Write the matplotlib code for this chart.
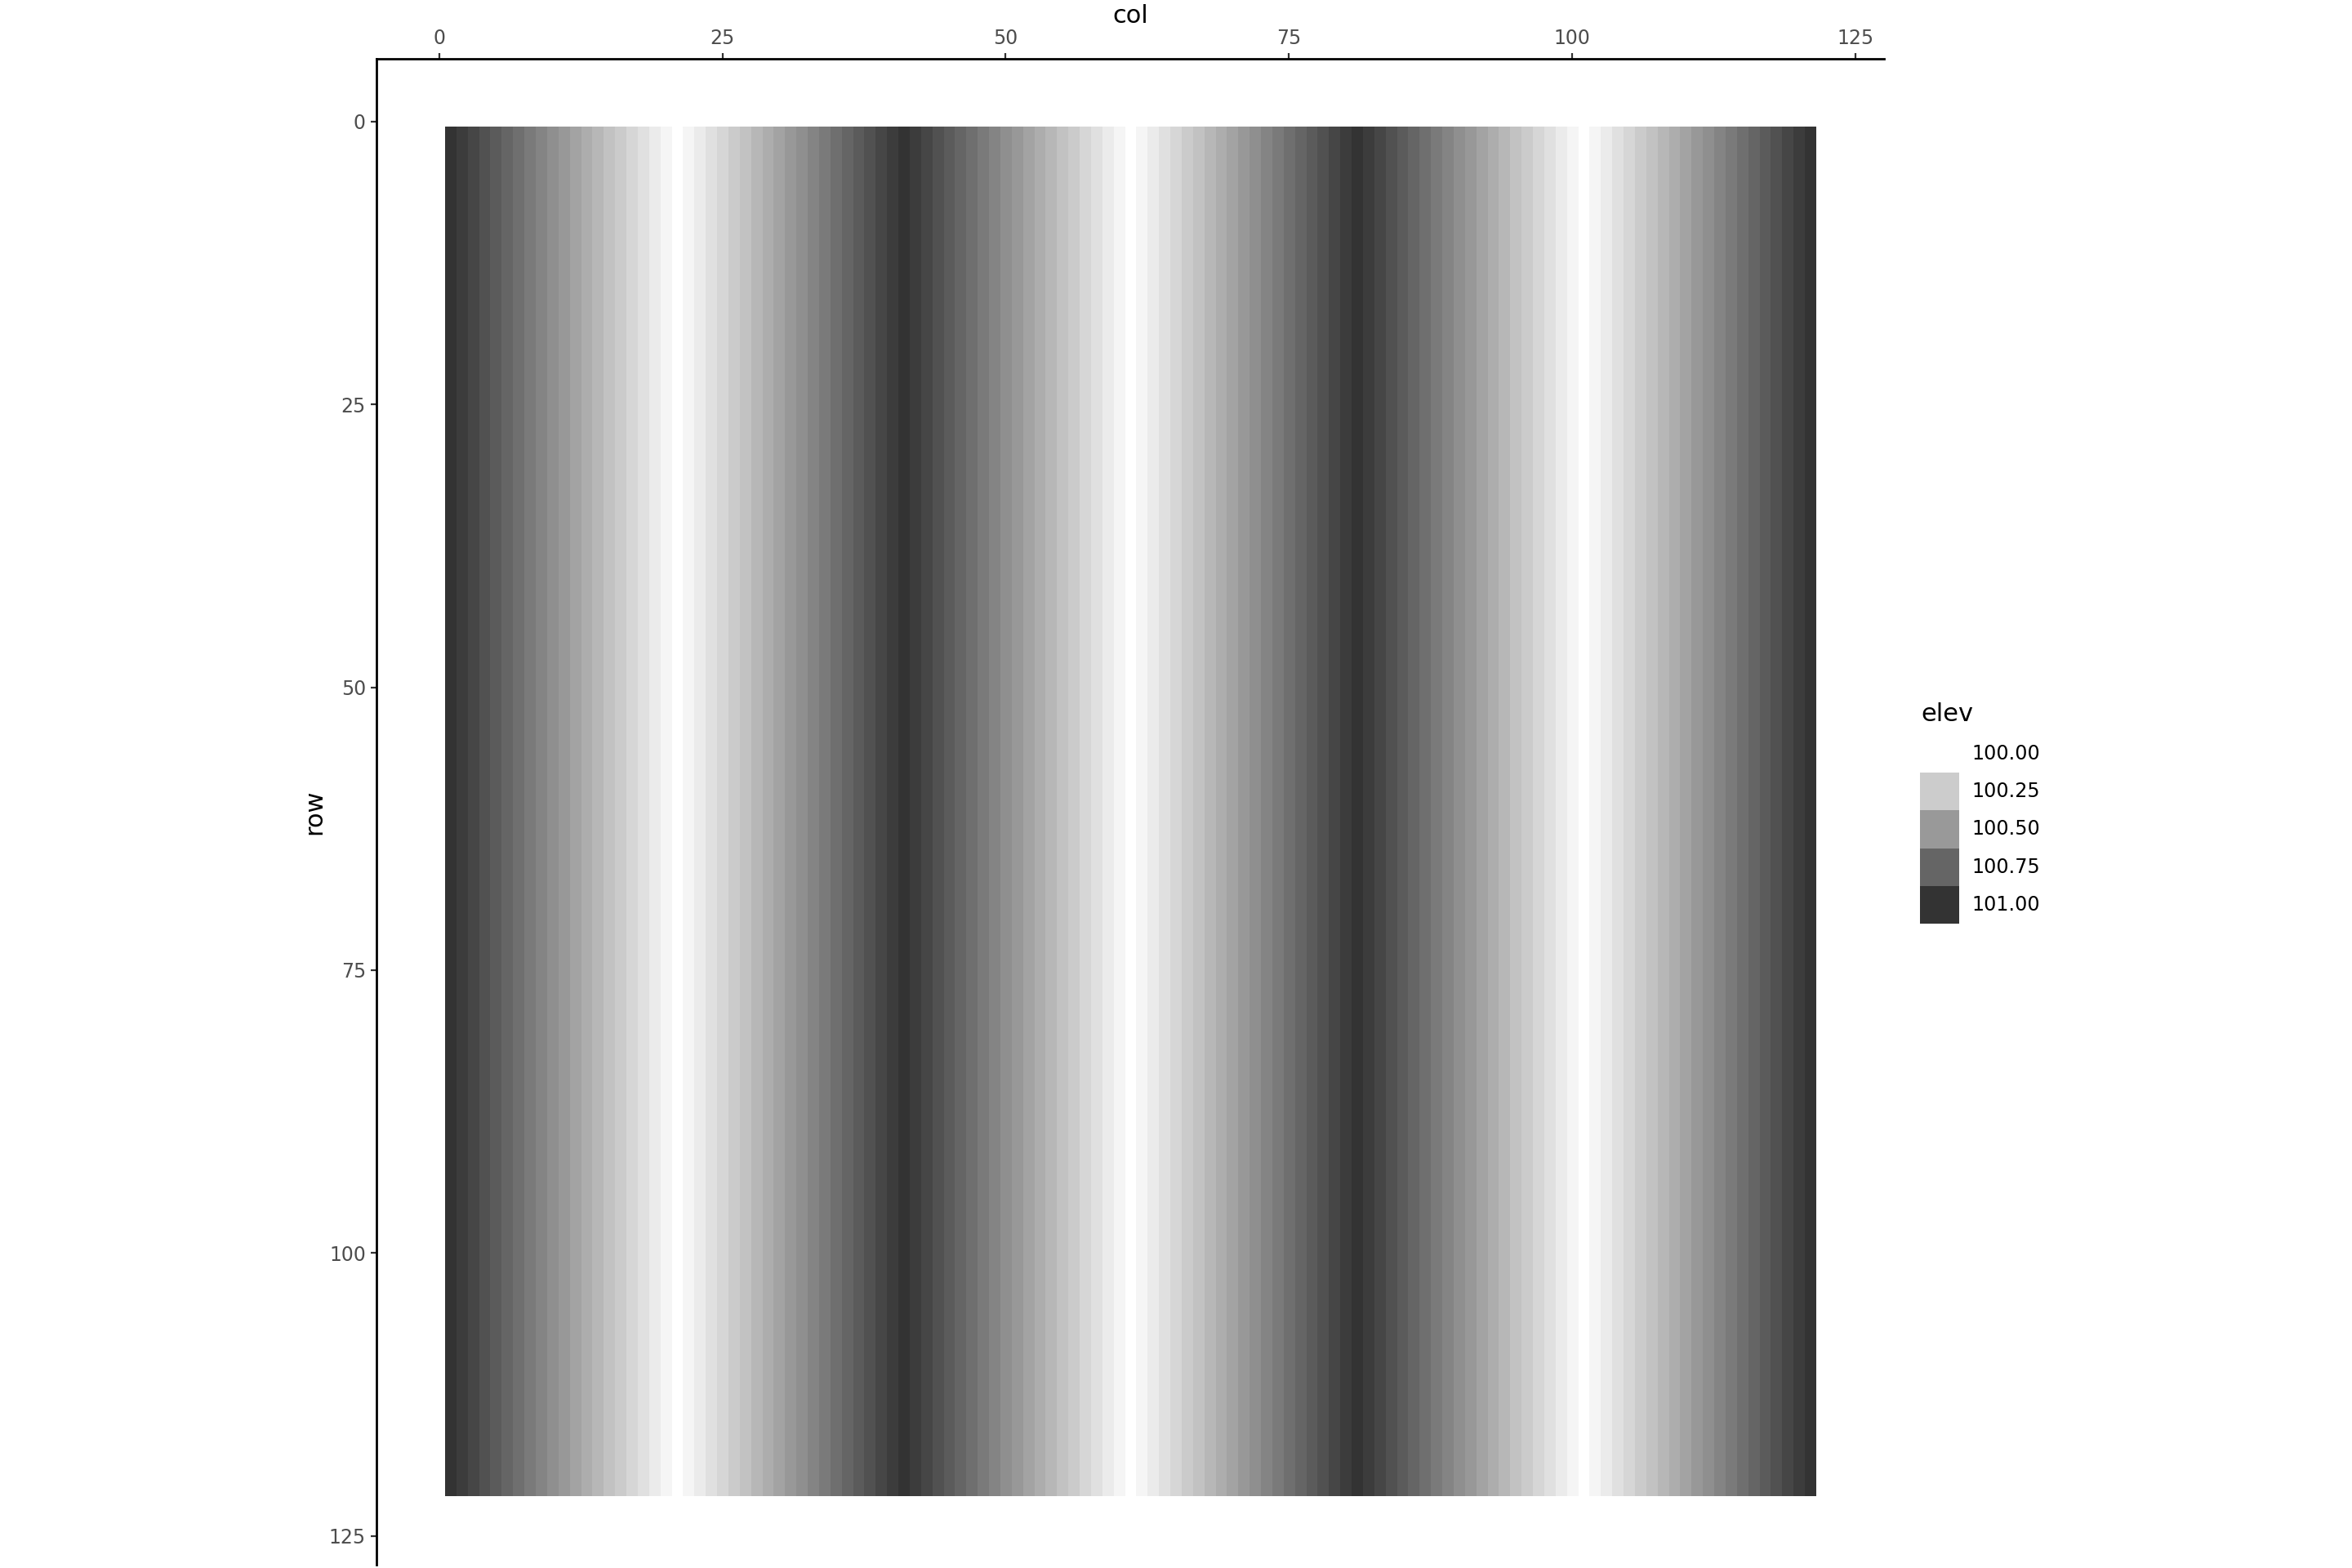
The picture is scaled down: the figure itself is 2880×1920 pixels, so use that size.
import numpy as np
import matplotlib
matplotlib.use('Agg')
import matplotlib.pyplot as plt
from matplotlib.colors import LinearSegmentedColormap
from matplotlib.patches import Rectangle

# elevation read per column (all rows identical), cols 1..121
elev_by_col = [
    101.00, 100.95, 100.90, 100.85, 100.80, 100.75, 100.70, 100.65, 100.60, 100.55,
    100.50, 100.45, 100.40, 100.35, 100.30, 100.25, 100.20, 100.15, 100.10, 100.05,
    100.00, 100.05, 100.10, 100.15, 100.20, 100.25, 100.30, 100.35, 100.40, 100.45,
    100.50, 100.55, 100.60, 100.65, 100.70, 100.75, 100.80, 100.85, 100.90, 100.95,
    101.00, 100.95, 100.90, 100.85, 100.80, 100.75, 100.70, 100.65, 100.60, 100.55,
    100.50, 100.45, 100.40, 100.35, 100.30, 100.25, 100.20, 100.15, 100.10, 100.05,
    100.00, 100.05, 100.10, 100.15, 100.20, 100.25, 100.30, 100.35, 100.40, 100.45,
    100.50, 100.55, 100.60, 100.65, 100.70, 100.75, 100.80, 100.85, 100.90, 100.95,
    101.00, 100.95, 100.90, 100.85, 100.80, 100.75, 100.70, 100.65, 100.60, 100.55,
    100.50, 100.45, 100.40, 100.35, 100.30, 100.25, 100.20, 100.15, 100.10, 100.05,
    100.00, 100.05, 100.10, 100.15, 100.20, 100.25, 100.30, 100.35, 100.40, 100.45,
    100.50, 100.55, 100.60, 100.65, 100.70, 100.75, 100.80, 100.85, 100.90, 100.95,
    101.00,
]
n_rows = 121
x_ticks = [0, 25, 50, 75, 100, 125]
y_ticks = [0, 25, 50, 75, 100, 125]
legend_breaks = [100.00, 100.25, 100.50, 100.75, 101.00]
legend_labels = ['100.00', '100.25', '100.50', '100.75', '101.00']

W, H = 2880, 1920
fig = plt.figure(figsize=(14.4, 9.6), dpi=200)

def fx(px):
    return px / W

def fy(py):
    return 1 - py / H

cmap = LinearSegmentedColormap.from_list('elev', ['#FFFFFF', '#333333'])
n_cols = len(elev_by_col)
grid = np.tile(np.array(elev_by_col), (n_rows, 1))

ax = fig.add_axes([fx(461), fy(1916), fx(2307) - fx(461), fy(72) - fy(1916)])
ax.imshow(grid, cmap=cmap, vmin=100, vmax=101, interpolation='nearest',
          extent=(0.5, n_cols + 0.5, n_rows + 0.5, 0.5), aspect='auto')
ax.set_xlim(-5.55, 127.55)
ax.set_ylim(127.55, -5.55)

ax.xaxis.tick_top()
ax.xaxis.set_label_position('top')
ax.set_xticks(x_ticks)
ax.set_yticks(y_ticks)
ax.set_xlabel('col', fontsize=11, labelpad=2.4)
ax.set_ylabel('row', fontsize=11, labelpad=1.4)
ax.tick_params(length=2.5, width=0.8, color='#333333', labelcolor='#4D4D4D',
               labelsize=8.5, pad=2.2)
for s in ['right', 'bottom']:
    ax.spines[s].set_visible(False)
for s in ['left', 'top']:
    ax.spines[s].set_linewidth(1.0)
    ax.spines[s].set_color('black')

# legend drawn by hand
fig.text(fx(2352), fy(883), 'elev', fontsize=11, ha='left', va='baseline')
key_top, key_h = 900, 46.2
for i, (b, lab) in enumerate(zip(legend_breaks, legend_labels)):
    y0 = key_top + i * key_h
    fig.patches.append(Rectangle((fx(2351), fy(y0 + key_h)), fx(48), key_h / H,
                                 transform=fig.transFigure,
                                 facecolor=cmap((b - 100) / 1.0), edgecolor='none'))
    fig.text(fx(2414), fy(y0 + key_h / 2), lab, fontsize=8.6,
             ha='left', va='center')

plt.savefig('out.png', dpi=200)
